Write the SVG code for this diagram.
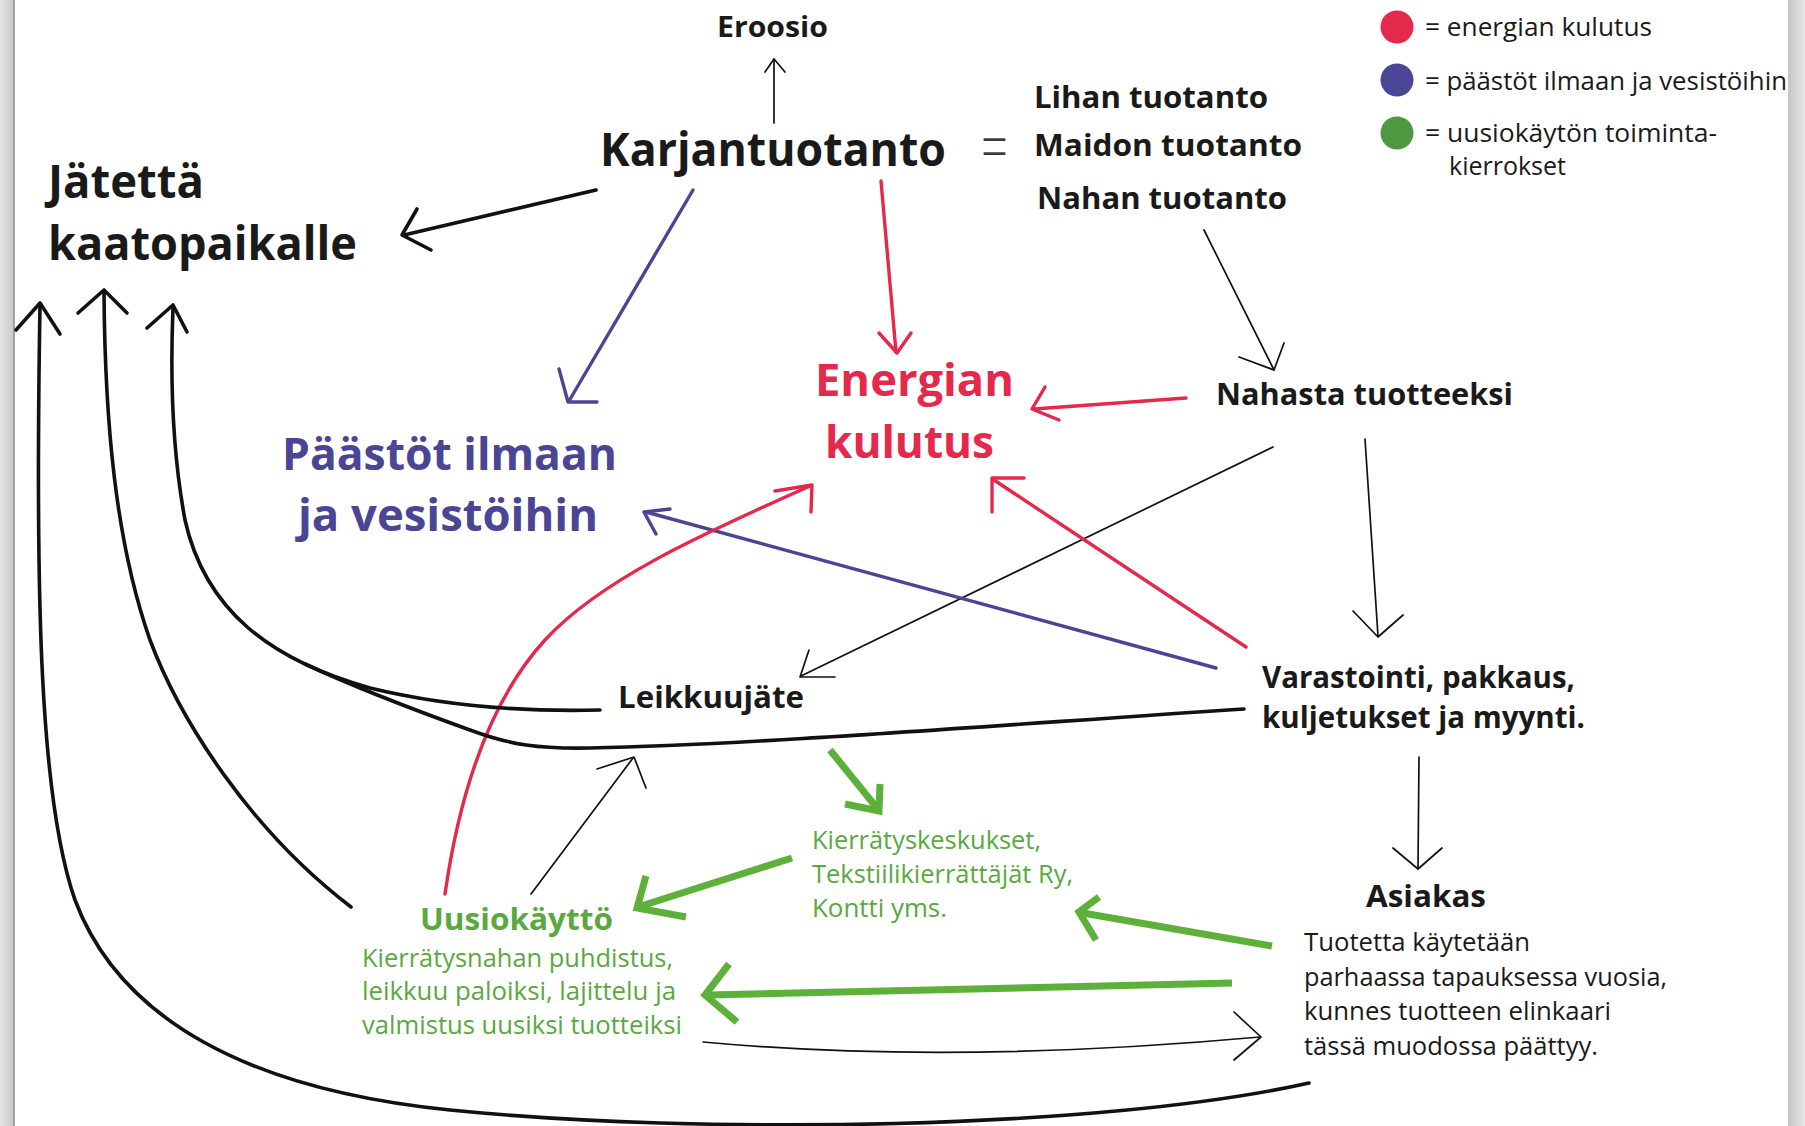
<svg xmlns="http://www.w3.org/2000/svg" width="1805" height="1126" viewBox="0 0 1805 1126">
<defs>
<linearGradient id="gl" x1="0" x2="1" y1="0" y2="0"><stop offset="0" stop-color="#e4e4e4"/><stop offset="1" stop-color="#c9c9c9"/></linearGradient>
<linearGradient id="gr" x1="0" x2="1" y1="0" y2="0"><stop offset="0" stop-color="#c4c4c4"/><stop offset="1" stop-color="#e8e8e8"/></linearGradient>
</defs>
<style>
text{font-family:"Open Sans","Noto Sans","Liberation Sans",sans-serif;}
.b{font-weight:bold;fill:#1a1a1a;}
.r{font-weight:normal;fill:#1a1a1a;}
.red{fill:#e4294c;}
.blue{fill:#4a4594;}
.grn{fill:#5aa83f;}
.k{fill:none;stroke:#111;stroke-linecap:round;stroke-linejoin:round;}
.thin{stroke-width:1.7;}
.thick{stroke-width:3.6;}
.cr{fill:none;stroke:#e4294c;stroke-width:3.4;stroke-linecap:round;stroke-linejoin:round;}
.cb{fill:none;stroke:#4a4594;stroke-width:3.4;stroke-linecap:round;stroke-linejoin:round;}
.cg{fill:none;stroke:#5db13a;stroke-width:7;stroke-linecap:butt;stroke-linejoin:miter;}
</style>
<rect x="0" y="0" width="1805" height="1126" fill="#fff"/>
<rect x="0" y="0" width="14" height="1126" fill="url(#gl)"/>
<line x1="14" y1="0" x2="14" y2="1126" stroke="#8a8a8a" stroke-width="1.5"/>
<rect x="1788" y="0" width="17" height="1126" fill="url(#gr)"/>

<g id="connectors">
<!-- Karjantuotanto -> Eroosio -->
<line class="k thin" x1="774" y1="123" x2="774" y2="59"/>
<polyline class="k thin" points="765,72 774,59 785,72"/>
<!-- Karjantuotanto -> Jatetta -->
<line class="k thick" x1="596" y1="190" x2="404" y2="235"/>
<polyline class="k thick" points="417,209 402,235 431,250"/>
<!-- Karjantuotanto -> Paastot -->
<line class="cb" x1="693" y1="190" x2="569" y2="401"/>
<polyline class="cb" points="559,369 568,402 597,402"/>
<!-- Karjantuotanto -> Energian -->
<line class="cr" x1="881" y1="181" x2="896" y2="352"/>
<polyline class="cr" points="879,333 897,353 911,333"/>
<!-- Nahan tuotanto -> Nahasta -->
<line class="k thin" x1="1204" y1="230" x2="1274" y2="370"/>
<polyline class="k thin" points="1239,357 1274,370 1284,343"/>
<!-- Nahasta -> Energian -->
<line class="cr" x1="1186" y1="398" x2="1034" y2="409"/>
<polyline class="cr" points="1045,387 1032,409 1059,420"/>
<!-- Nahasta -> Leikkuujate -->
<line class="k thin" x1="1273" y1="447" x2="801" y2="676"/>
<polyline class="k thin" points="809,650 800,677 835,677"/>
<!-- Nahasta -> Varastointi -->
<line class="k thin" x1="1365" y1="439" x2="1378" y2="636"/>
<polyline class="k thin" points="1353,611 1378,637 1403,615"/>
<!-- Varastointi -> Energian -->
<line class="cr" x1="1246" y1="647" x2="994" y2="480"/>
<polyline class="cr" points="1024,478 992,478 992,512"/>
<!-- Varastointi -> Paastot -->
<line class="cb" x1="1216" y1="668" x2="646" y2="512"/>
<polyline class="cb" points="670,509 644,512 656,534"/>
<!-- Uusiokaytto -> Energian (curve) -->
<path class="cr" d="M445,894 C460,790 490,700 545,640 C600,580 700,535 810,486"/>
<polyline class="cr" points="775,491 812,485 811,512"/>
<!-- Varastointi -> Asiakas -->
<line class="k thin" x1="1419" y1="757" x2="1418" y2="868"/>
<polyline class="k thin" points="1393,848 1418,869 1442,848"/>
<!-- Uusiokaytto -> lower curve -->
<line class="k thin" x1="531" y1="894" x2="633" y2="758"/>
<polyline class="k thin" points="597,769 634,757 646,788"/>
<!-- Uusiokaytto -> Asiakas -->
<path class="k thin" d="M703,1042 Q950,1065 1260,1037"/>
<polyline class="k thin" points="1234,1012 1261,1037 1234,1060"/>
<!-- Leikkuujate -> landfill (arrow C, upper branch) -->
<path class="k thick" d="M600,710 C520,712 440,705 370,688 C270,660 205,610 185,520 C172,450 170,380 173,308"/>
<polyline class="k thick" points="147,328 173,305 187,332"/>
<!-- Varastointi -> landfill (lower branch joining arrow C) -->
<path class="k thick" d="M1244,709 C1000,725 750,745 590,748 C540,749 510,745 470,730 C420,712 350,685 305,664"/>
<!-- Uusiokaytto -> landfill (arrow B) -->
<path class="k thick" d="M351,907 C250,830 180,720 150,640 C115,540 105,420 104,293"/>
<polyline class="k thick" points="78,313 104,290 127,313"/>
<!-- Asiakas -> landfill (arrow A) -->
<path class="k thick" d="M1309,1083 C1100,1130 700,1135 450,1110 C250,1090 120,1020 75,900 C40,800 35,600 40,306"/>
<polyline class="k thick" points="16,330 40,303 60,334"/>
<!-- green: lower curve -> Kierratyskeskukset -->
<line class="cg" x1="830" y1="750" x2="877" y2="808"/>
<polyline class="cg" points="845,804 879,811 880,784"/>
<!-- green: Kierratys -> Uusiokaytto -->
<line class="cg" x1="792" y1="858" x2="641" y2="906"/>
<polyline class="cg" points="646,876 637,908 686,917"/>
<!-- green: Asiakas -> Kierratys -->
<line class="cg" x1="1272" y1="946" x2="1083" y2="913"/>
<polyline class="cg" points="1099,897 1079,912 1096,940"/>
<!-- green: Asiakas -> Uusiokaytto -->
<line class="cg" x1="1232" y1="983" x2="709" y2="995"/>
<polyline class="cg" points="729,964 705,995 737,1022"/>
</g>

<g id="legend">
<circle cx="1397" cy="27" r="16.5" fill="#e4294c"/>
<circle cx="1397" cy="80" r="16.5" fill="#4a4594"/>
<circle cx="1397" cy="133" r="16.5" fill="#4c993f"/>
<text class="r" x="1425" y="36" font-size="25" textLength="227" lengthAdjust="spacingAndGlyphs">= energian kulutus</text>
<text class="r" x="1425" y="90" font-size="25" textLength="362" lengthAdjust="spacingAndGlyphs">= päästöt ilmaan ja vesistöihin</text>
<text class="r" x="1425" y="142" font-size="25" textLength="292" lengthAdjust="spacingAndGlyphs">= uusiokäytön toiminta-</text>
<text class="r" x="1449" y="175" font-size="25" textLength="117" lengthAdjust="spacingAndGlyphs">kierrokset</text>
</g>

<g id="eroosio"><text class="b" x="717" y="37" font-size="28" textLength="111" lengthAdjust="spacingAndGlyphs">Eroosio</text></g>
<g id="karjantuotanto"><text class="b" x="600" y="166" font-size="47" textLength="346" lengthAdjust="spacingAndGlyphs">Karjantuotanto</text></g>
<g id="equals"><text x="981" y="170" font-size="52" fill="#3a3a3a" font-weight="300" textLength="27" lengthAdjust="spacingAndGlyphs" transform="translate(0,-50) scale(1,1.3)" style="font-family:'Open Sans',sans-serif">=</text></g>
<g id="tuotannot">
<text class="b" x="1034" y="108" font-size="31" textLength="234" lengthAdjust="spacingAndGlyphs">Lihan tuotanto</text>
<text class="b" x="1034" y="156" font-size="31" textLength="268" lengthAdjust="spacingAndGlyphs">Maidon tuotanto</text>
<text class="b" x="1037" y="209" font-size="31" textLength="250" lengthAdjust="spacingAndGlyphs">Nahan tuotanto</text>
</g>
<g id="jatetta">
<text class="b" x="48" y="198" font-size="47" textLength="156" lengthAdjust="spacingAndGlyphs">Jätettä</text>
<text class="b" x="48" y="260" font-size="47" textLength="309" lengthAdjust="spacingAndGlyphs">kaatopaikalle</text>
</g>
<g id="paastot">
<text class="b blue" x="282" y="470" font-size="44" textLength="335" lengthAdjust="spacingAndGlyphs">Päästöt ilmaan</text>
<text class="b blue" x="298" y="531" font-size="44" textLength="300" lengthAdjust="spacingAndGlyphs">ja vesistöihin</text>
</g>
<g id="energian">
<text class="b red" x="815" y="396" font-size="45" textLength="199" lengthAdjust="spacingAndGlyphs">Energian</text>
<text class="b red" x="825" y="458" font-size="45" textLength="169" lengthAdjust="spacingAndGlyphs">kulutus</text>
</g>
<g id="nahasta"><text class="b" x="1216" y="405" font-size="30" textLength="297" lengthAdjust="spacingAndGlyphs">Nahasta tuotteeksi</text></g>
<g id="leikkuujate"><text class="b" x="618" y="708" font-size="30" textLength="186" lengthAdjust="spacingAndGlyphs">Leikkuujäte</text></g>
<g id="varastointi">
<text class="b" x="1262" y="688" font-size="30" textLength="313" lengthAdjust="spacingAndGlyphs">Varastointi, pakkaus,</text>
<text class="b" x="1262" y="728" font-size="30" textLength="323" lengthAdjust="spacingAndGlyphs">kuljetukset ja myynti.</text>
</g>
<g id="asiakas">
<text class="b" x="1366" y="907" font-size="30" textLength="120" lengthAdjust="spacingAndGlyphs">Asiakas</text>
<text class="r" x="1304" y="951" font-size="25" textLength="226" lengthAdjust="spacingAndGlyphs">Tuotetta käytetään</text>
<text class="r" x="1304" y="986" font-size="25" textLength="363" lengthAdjust="spacingAndGlyphs">parhaassa tapauksessa vuosia,</text>
<text class="r" x="1304" y="1020" font-size="25" textLength="307" lengthAdjust="spacingAndGlyphs">kunnes tuotteen elinkaari</text>
<text class="r" x="1304" y="1055" font-size="25" textLength="294" lengthAdjust="spacingAndGlyphs">tässä muodossa päättyy.</text>
</g>
<g id="kierratyskeskukset">
<text class="grn" x="812" y="849" font-size="26" textLength="229" lengthAdjust="spacingAndGlyphs">Kierrätyskeskukset,</text>
<text class="grn" x="812" y="883" font-size="26" textLength="261" lengthAdjust="spacingAndGlyphs">Tekstiilikierrättäjät Ry,</text>
<text class="grn" x="812" y="917" font-size="26" textLength="135" lengthAdjust="spacingAndGlyphs">Kontti yms.</text>
</g>
<g id="uusiokaytto">
<text class="grn" x="420" y="930" font-size="30" font-weight="bold" textLength="193" lengthAdjust="spacingAndGlyphs">Uusiokäyttö</text>
<text class="grn" x="362" y="967" font-size="25" textLength="311" lengthAdjust="spacingAndGlyphs">Kierrätysnahan puhdistus,</text>
<text class="grn" x="362" y="1000" font-size="25" textLength="314" lengthAdjust="spacingAndGlyphs">leikkuu paloiksi, lajittelu ja</text>
<text class="grn" x="362" y="1034" font-size="25" textLength="320" lengthAdjust="spacingAndGlyphs">valmistus uusiksi tuotteiksi</text>
</g>
</svg>
